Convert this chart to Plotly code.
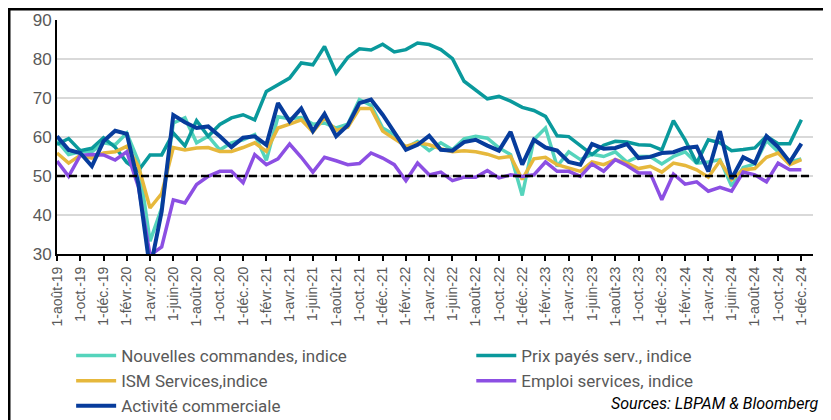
import plotly.graph_objects as go

# mois, d'août 2019 à décembre 2024
mois_fr = ['janv.', 'févr.', 'mars', 'avr.', 'mai', 'juin',
           'juil.', 'août', 'sept.', 'oct.', 'nov.', 'déc.']
dates = []
for i in range(65):
    m = (7 + i) % 12
    a = 19 + (7 + i) // 12
    dates.append('1-%s-%d' % (mois_fr[m], a))

nouvelles_commandes = [59.0, 55.5, 56.2, 56.2, 58.5, 58.0, 61.0, 53.8, 33.3, 41.8,
                       63.6, 64.9, 58.5, 60.2, 56.7, 58.5, 59.3, 60.6, 54.0, 65.2,
                       64.7, 65.0, 63.3, 63.6, 62.3, 63.3, 69.6, 68.1, 62.3, 60.6,
                       57.2, 58.9, 56.5, 58.5, 56.7, 59.5, 60.2, 59.7, 57.2, 55.5,
                       45.0, 59.3, 62.3, 52.5, 56.2, 54.2, 55.6, 55.0, 56.2, 53.6,
                       55.0, 55.0, 53.1, 55.0, 56.2, 53.3, 53.6, 54.2, 47.4, 52.2,
                       53.1, 59.1, 56.2, 53.6, 54.4]
prix_payes = [58.1, 59.6, 56.5, 57.1, 59.8, 57.4, 53.5, 51.4, 55.4, 55.4,
              61.0, 57.7, 64.2, 60.2, 63.2, 64.9, 65.7, 64.4, 71.7, 73.4,
              75.1, 79.0, 78.5, 83.2, 76.4, 80.4, 82.6, 82.3, 83.8, 81.8,
              82.4, 84.1, 83.7, 82.4, 80.1, 74.3, 72.1, 69.8, 70.4, 69.2,
              67.6, 66.8, 65.3, 60.3, 60.1, 57.9, 55.5, 57.9, 58.9, 58.7,
              58.0, 57.9, 56.7, 64.2, 59.3, 53.3, 59.3, 58.5, 56.5, 56.8,
              57.2, 60.2, 58.3, 58.3, 64.4]
ism_services = [55.9, 53.3, 55.3, 54.6, 55.9, 56.2, 57.6, 52.5, 41.8, 45.5,
                57.3, 56.7, 57.2, 57.3, 56.3, 56.3, 57.3, 58.5, 56.3, 62.3,
                63.3, 64.4, 61.3, 64.9, 61.7, 62.5, 67.3, 67.3, 61.5, 59.6,
                57.6, 58.5, 58.0, 57.0, 56.2, 56.5, 56.2, 55.6, 54.6, 55.0,
                49.1, 54.4, 54.8, 52.9, 52.1, 51.2, 53.6, 52.9, 54.2, 53.3,
                51.9, 52.5, 51.0, 53.3, 52.7, 51.6, 49.7, 53.9, 49.1, 51.6,
                51.9, 54.8, 55.9, 52.9, 54.2]
emploi = [53.8, 49.9, 55.3, 55.5, 55.4, 54.1, 56.2, 47.2, 29.7, 31.8,
          43.9, 43.1, 47.8, 49.9, 51.2, 51.2, 48.3, 55.5, 52.9, 54.4,
          58.2, 54.8, 51.0, 54.8, 53.9, 52.9, 53.2, 55.9, 54.6, 52.9,
          48.8, 53.3, 50.3, 51.0, 48.8, 49.7, 49.7, 51.4, 49.5, 50.3,
          49.9, 50.3, 53.6, 51.2, 51.2, 49.9, 53.1, 51.2, 54.2, 52.7,
          50.8, 50.8, 43.9, 50.5, 47.9, 48.5, 46.1, 47.1, 46.1, 51.0,
          50.3, 48.5, 53.3, 51.6, 51.6]
activite = [60.2, 56.7, 55.9, 52.5, 58.9, 61.6, 60.8, 48.0, 26.0, 40.9,
            65.6, 63.8, 62.3, 62.7, 60.2, 57.4, 59.8, 60.2, 58.0, 68.7,
            64.0, 67.3, 61.5, 65.9, 60.2, 63.0, 68.7, 69.6, 65.7, 61.0,
            56.7, 58.0, 60.3, 56.7, 56.5, 58.7, 59.3, 57.8, 56.5, 61.3,
            52.9, 59.3, 57.3, 56.5, 53.6, 52.9, 58.2, 57.0, 57.2, 58.2,
            54.6, 54.9, 55.9, 56.1, 57.2, 57.5, 51.2, 61.5, 49.3, 54.8,
            53.3, 60.2, 57.4, 53.6, 58.3]

x = list(range(len(dates)))

fig = go.Figure()
fig.add_trace(go.Scatter(x=x, y=nouvelles_commandes, mode='lines', name='Nouvelles commandes, indice',
                         line=dict(color='#55D4BC', width=3.5), legend='legend'))
fig.add_trace(go.Scatter(x=x, y=prix_payes, mode='lines', name='Prix payés serv., indice',
                         line=dict(color='#0A999C', width=3.5), legend='legend2'))
fig.add_trace(go.Scatter(x=x, y=ism_services, mode='lines', name='ISM Services,indice',
                         line=dict(color='#E6B83C', width=3.5), legend='legend'))
fig.add_trace(go.Scatter(x=x, y=emploi, mode='lines', name='Emploi services, indice',
                         line=dict(color='#8C4FE3', width=3.5), legend='legend2'))
fig.add_trace(go.Scatter(x=x, y=activite, mode='lines', name='Activité commerciale',
                         line=dict(color='#073C9C', width=4), legend='legend'))

# ligne des 50
fig.add_shape(type='line', xref='paper', yref='y', x0=0, x1=1, y0=50, y1=50,
              line=dict(color='black', width=2.5, dash='8px,4px'), layer='above')

# cadre du graphique
fig.add_shape(type='rect', xref='paper', yref='paper',
              x0=-0.0635, x1=1.033, y0=-0.739, y1=1.047,
              line=dict(color='black', width=3))

fig.add_annotation(text='<i>Sources: LBPAM & Bloomberg</i>', xref='paper', yref='paper',
                   x=1.0106, y=-0.637, xanchor='right', yanchor='middle', showarrow=False,
                   font=dict(family='Roboto', size=16, color='black'))

legend_style = dict(font=dict(family='Roboto', size=17, color='#595959'),
                    bgcolor='rgba(0,0,0,0)', itemwidth=40, tracegroupgap=0,
                    xanchor='left', yanchor='top', traceorder='normal')

fig.update_layout(
    width=831, height=420,
    margin=dict(l=49, r=26, t=12, b=174, autoexpand=False),
    paper_bgcolor='white', plot_bgcolor='white',
    showlegend=True,
    legend=dict(x=0.0187, y=-0.359, **legend_style),
    legend2=dict(x=0.548, y=-0.359, **legend_style),
    xaxis=dict(range=[0, 65], tickvals=x[::2], ticktext=dates[::2], tickangle=-90,
               showgrid=False, showline=True, linecolor='black', linewidth=2,
               ticks='outside', ticklen=5, tickcolor='black', tickwidth=1.5,
               tickfont=dict(family='Liberation Sans, Arial', size=14, color='#595959'),
               zeroline=False),
    yaxis=dict(range=[30, 90], dtick=10, showgrid=True, gridcolor='#D9D9D9', gridwidth=1.5,
               showline=True, linecolor='black', linewidth=2, ticks='',
               tickfont=dict(family='Liberation Sans, Arial', size=17, color='#595959'),
               zeroline=False),
)

fig.write_html('out.html')
